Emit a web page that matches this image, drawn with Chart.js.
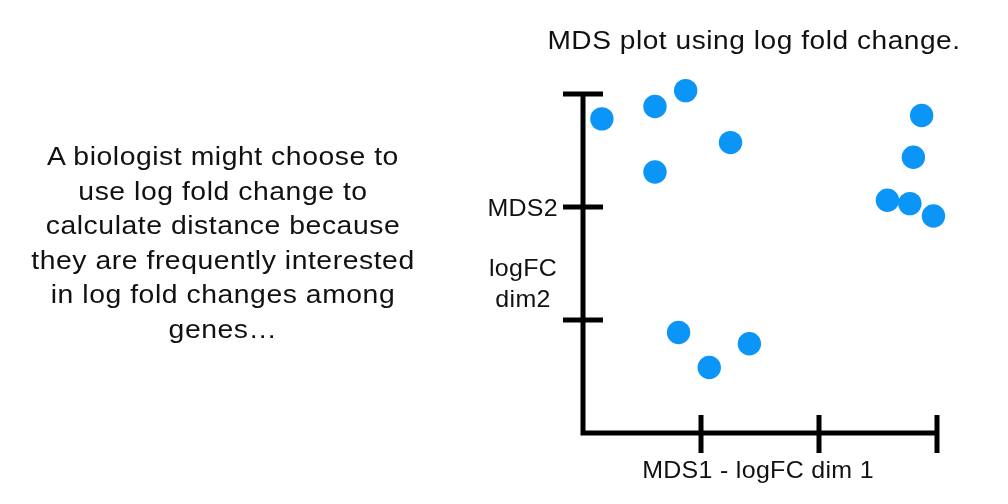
<!DOCTYPE html>
<html lang="en">
<head>
    <meta charset="UTF-8">
    <title>MDS plot</title>
    <script src="https://cdn.jsdelivr.net/npm/chart.js"></script>
    <style>
        body { margin: 0; background: #fff; font-family: "Liberation Sans", Arial, sans-serif; }
        .wrap { position: relative; width: 1008px; height: 504px; }
        #mdsChart { position: absolute; left: 0; top: 0; }
        .note {
            position: absolute; left: 22px; top: 139px; width: 402px;
            text-align: center; font-size: 26px; line-height: 34.6px;
            letter-spacing: 0.5px; color: #111; white-space: nowrap;
            transform: scaleX(1.09); transform-origin: 201px 0;
        }
    </style>
</head>
<body>
    <div class="wrap">
        <canvas id="mdsChart" width="1008" height="504"></canvas>
        <div class="note">A biologist might choose to<br>use log fold change to<br>calculate distance because<br>they are frequently interested<br>in log fold changes among<br>genes…</div>
    </div>

    <script>
        // sample positions on the two MDS dimensions
        const dim1 = [0.16, 0.61, 0.87, 1.25, 0.61, 2.87, 2.80, 3.17, 2.58, 2.77, 2.97, 0.81, 1.07, 1.41];
        const dim2 = [2.78, 2.89, 3.03, 2.57, 2.31, 2.81, 2.44, 2.22, 2.06, 2.03, 1.92, 0.89, 0.58, 0.79];
        const xTicks = [0, 1, 2, 3];
        const yTicks = [0, 1, 2, 3];
        const titleText = 'MDS plot using log fold change.';
        const xLabel = 'MDS1 - logFC dim 1';
        const yLabel = ['MDS2', 'logFC', 'dim2'];

        const points = dim1.map((x, i) => ({ x: x, y: dim2[i] }));

        // draw text a bit wider than the font gives, like the original slide
        function wideText(c, text, x, y, sx) {
            c.save();
            c.translate(x, y);
            c.scale(sx, 1);
            c.fillText(text, 0, 0);
            c.restore();
        }

        const axesPlugin = {
            id: 'axesPlugin',
            beforeDatasetsDraw(chart) {
                const c = chart.ctx;
                const xs = chart.scales.x, ys = chart.scales.y;
                const x0 = xs.getPixelForValue(0), y0 = ys.getPixelForValue(0);
                c.save();
                c.strokeStyle = '#000';
                c.lineWidth = 5;
                c.lineCap = 'butt';
                c.beginPath();
                c.moveTo(x0, ys.getPixelForValue(3) - 2);
                c.lineTo(x0, y0);
                c.lineTo(xs.getPixelForValue(3) + 2, y0);
                c.stroke();
                // tick marks
                xTicks.slice(1).forEach(v => {
                    const px = xs.getPixelForValue(v);
                    c.beginPath(); c.moveTo(px, y0 - 18); c.lineTo(px, y0 + 20); c.stroke();
                });
                yTicks.slice(1).forEach(v => {
                    const py = ys.getPixelForValue(v);
                    c.beginPath(); c.moveTo(x0 - 20, py); c.lineTo(x0 + 20, py); c.stroke();
                });
                // texts
                c.fillStyle = '#111';
                c.textBaseline = 'alphabetic';
                c.textAlign = 'center';
                c.font = '26px "Liberation Sans", Arial, sans-serif';
                c.letterSpacing = '0.5px';
                wideText(c, titleText, 754, 49, 1.08);
                c.font = '24px "Liberation Sans", Arial, sans-serif';
                c.letterSpacing = '0.3px';
                wideText(c, xLabel, 758, 478, 1.04);
                c.textAlign = 'right';
                wideText(c, yLabel[0], 558, ys.getPixelForValue(2) + 8.5, 1.04);
                c.textAlign = 'center';
                wideText(c, yLabel[1], 523, 276, 1.04);
                wideText(c, yLabel[2], 523, 307, 1.04);
                c.restore();
            }
        };

        const ctx = document.getElementById('mdsChart').getContext('2d');
        const mdsChart = new Chart(ctx, {
            type: 'scatter',
            data: {
                datasets: [{
                    label: 'samples',
                    data: points,
                    backgroundColor: '#0a95f7',
                    borderWidth: 0,
                    pointRadius: 11.7,
                    pointHoverRadius: 11.7,
                    clip: false
                }]
            },
            options: {
                responsive: false,
                animation: false,
                layout: { padding: { left: 583, right: 71, top: 94, bottom: 71 } },
                plugins: { legend: { display: false }, tooltip: { enabled: false } },
                scales: {
                    x: { type: 'linear', min: 0, max: 3, display: false },
                    y: { type: 'linear', min: 0, max: 3, display: false }
                }
            },
            plugins: [axesPlugin]
        });
    </script>
</body>
</html>
